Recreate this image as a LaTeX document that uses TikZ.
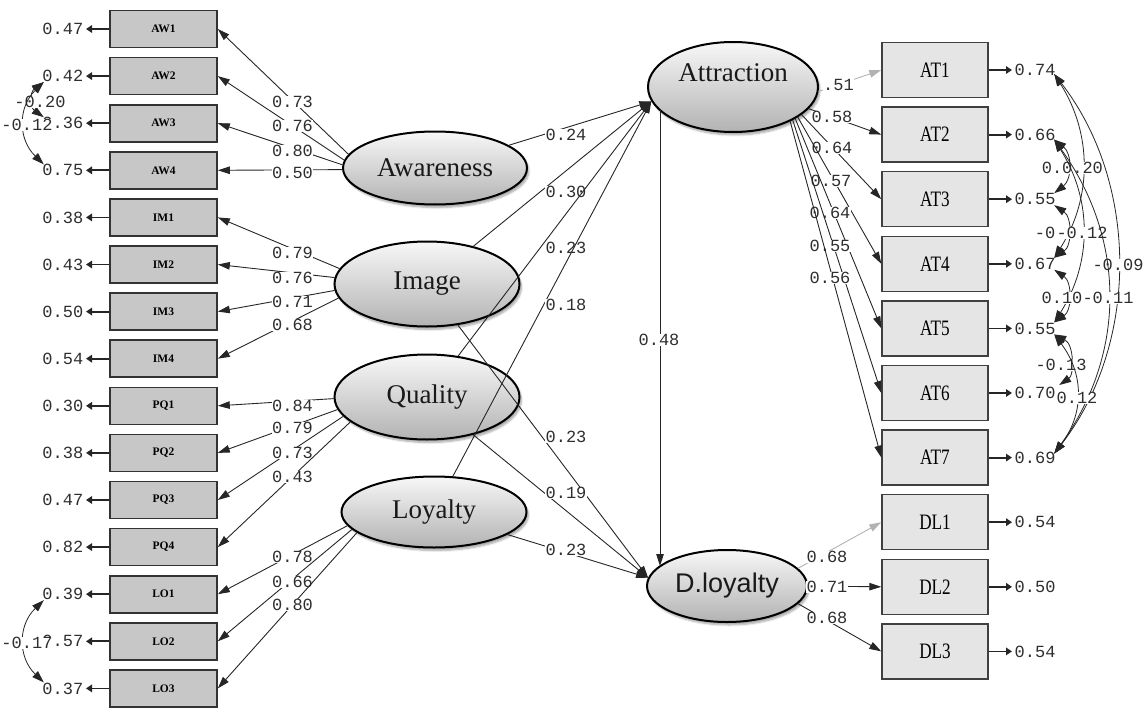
\documentclass[tikz,border=0pt]{standalone}
\usepackage{fontspec}
\setmainfont{Liberation Serif}
\newfontfamily\numfont{Liberation Mono}
\newfontfamily\sansfont{Liberation Sans}
\newfontfamily\tagfont[FakeStretch=0.78]{Liberation Serif}
\usetikzlibrary{arrows.meta,shapes.geometric,shadows.blur,calc}

\begin{document}
\begin{tikzpicture}[x=1pt,y=-1pt,
  num/.style={font=\numfont\fontsize{17}{17}\selectfont, text=black!82, inner sep=0.5pt},
  vlab/.style={num, fill=white},
  lbox/.style={draw=black!80, line width=1.6pt, fill=black!22, minimum width=107pt,
    minimum height=37pt, inner sep=0pt, font=\bfseries\fontsize{11.5}{11.5}\selectfont},
  rbox/.style={draw=black!75, line width=1.4pt, fill=black!10, minimum width=106pt,
    minimum height=55pt, inner sep=0pt, font=\tagfont\fontsize{22}{22}\selectfont},
  latent/.style={ellipse, draw=black, line width=2pt, top color=black!3, bottom color=black!30,
    inner sep=0pt, text=black!90, font=\fontsize{27}{27}\selectfont,
    blur shadow={shadow xshift=2pt, shadow yshift=-3pt, shadow blur steps=6, shadow opacity=35}},
  reg/.style={draw=black!85, line width=0.9pt, -{Triangle[length=12pt,width=7.5pt]}},
  fixpath/.style={draw=black!30, line width=0.9pt, -{Triangle[length=12pt,width=7.5pt,fill=black!30]}},
  err/.style={draw=black!85, line width=1.8pt, shorten >=2pt, -{Triangle[length=6pt,width=7.5pt]}},
  cov/.style={draw=black!85, line width=0.8pt,
    {Triangle[length=12pt,width=8pt]}-{Triangle[length=12pt,width=8pt]}},
]
\useasboundingbox (0,0) rectangle (1143,709);

% ---------- indicator boxes of the exogenous constructs ----------
\foreach \t/\e [count=\i from 0] in {AW1/0.47, AW2/0.42, AW3/0.36, AW4/0.75,
    IM1/0.38, IM2/0.43, IM3/0.50, IM4/0.54, PQ1/0.30, PQ2/0.38, PQ3/0.47, PQ4/0.82,
    LO1/0.39, LO2/0.57, LO3/0.37} {
  \node[lbox] (\t) at (163.5, 29+47.1*\i) {\t};
  \node[num, anchor=east] (e\t) at (84, 29+47.1*\i) {\e};
  \draw[err] (\t.west) -- (e\t.east);
}

% ---------- indicator boxes of the endogenous constructs ----------
\foreach \t/\e [count=\i from 0] in {AT1/0.74, AT2/0.66, AT3/0.55, AT4/0.67, AT5/0.55,
    AT6/0.70, AT7/0.69, DL1/0.54, DL2/0.50, DL3/0.54} {
  \node[rbox] (\t) at (935, 70+64.6*\i) {\t};
  \node[num, anchor=west] (e\t) at (1014, 70+64.6*\i) {\e};
  \draw[err] (\t.east) -- (e\t.west);
}

% ---------- latent variables ----------
\node[latent, minimum width=184pt, minimum height=73pt] (aw) at (435,168) {Awareness};
\node[latent, minimum width=185pt, minimum height=85pt] (im) at (427,284) {Image};
\node[latent, minimum width=185pt, minimum height=85pt] (qu) at (427,397) {Quality};
\node[latent, minimum width=185pt, minimum height=71pt] (lo) at (434,512) {Loyalty};
\node[latent, minimum width=170pt, minimum height=90pt, text depth=28pt] (att) at (733,87) {Attraction};
\node[latent, minimum width=160pt, minimum height=72pt, font=\sansfont\fontsize{27}{27}\selectfont] (dl) at (727,586) {D.loyalty};

% ---------- loadings, left side ----------
\draw[reg] (aw.171) -- (AW1.east); \node[vlab] (law1) at (292.5,102) {0.73};
\draw[reg] (aw.175) -- (AW2.east); \node[vlab] (law2) at (292.5,126) {0.76};
\draw[reg] (aw.178) -- (AW3.east); \node[vlab] (law3) at (292.5,151) {0.80};
\draw[reg] (aw.181) -- (AW4.east); \node[vlab] (law4) at (292.5,173) {0.50};

\draw[reg] (im.170) -- (IM1.east); \node[vlab] (lim1) at (292.5,253) {0.79};
\draw[reg] (im.176) -- (IM2.east); \node[vlab] (lim2) at (292.5,278) {0.76};
\draw[reg] (im.184) -- (IM3.east); \node[vlab] (lim3) at (292.5,302) {0.71};
\draw[reg] (im.189) -- (IM4.east); \node[vlab] (lim4) at (292.5,325) {0.68};

\draw[reg] (qu.181) -- (PQ1.east); \node[vlab] (lpq1) at (292.5,406) {0.84};
\draw[reg] (qu.188) -- (PQ2.east); \node[vlab] (lpq2) at (292.5,428) {0.79};
\draw[reg] (qu.193) -- (PQ3.east); \node[vlab] (lpq3) at (292.5,453) {0.73};
\draw[reg] (qu.198) -- (PQ4.east); \node[vlab] (lpq4) at (292.5,477) {0.43};

\draw[reg] (lo.189) -- (LO1.east); \node[vlab] (llo1) at (292.5,557) {0.78};
\draw[reg] (lo.192) -- (LO2.east); \node[vlab] (llo2) at (292.5,582) {0.66};
\draw[reg] (lo.195) -- (LO3.east); \node[vlab] (llo3) at (292.5,605) {0.80};

% ---------- structural paths ----------
\draw[reg] (aw) -- (att.190); \node[vlab] (s1) at (566,135) {0.24};
\draw[reg] (im) -- (att.190); \node[vlab] (s2) at (566,192) {0.30};
\draw[reg] (qu) -- (att.190); \node[vlab] (s3) at (566,248) {0.23};
\draw[reg] (lo) -- (att.190); \node[vlab] (s4) at (566,305) {0.18};
\draw[reg] (im) -- (dl.174); \node[vlab] (s5) at (566,437) {0.23};
\draw[reg] (qu) -- (dl.174); \node[vlab] (s6) at (566,493) {0.19};
\draw[reg] (lo) -- (dl.174); \node[vlab] (s7) at (566,550) {0.23};
\draw[reg] ($(att.center)+(-73,23)$) -- ($(dl.center)+(-67,-20)$);
\node[vlab] (s8) at (659,340) {0.48};

% ---------- loadings, right side ----------
\draw[fixpath] (att.-3) -- (AT1.west); \node[vlab] (lat1) at (838.5,85) {.51};
\draw[reg] (att.-16) -- (AT2.west); \node[vlab] (lat2) at (832,117) {0.58};
\draw[reg] (att.-22) -- (AT3.west); \node[vlab] (lat3) at (832,148) {0.64};
\draw[reg] (att.-25) -- (AT4.west); \node[vlab] (lat4) at (831,181) {0.57};
\draw[reg] (att.-27) -- (AT5.west); \node[vlab] (lat5) at (830,213) {0.64};
\draw[reg] (att.-29) -- (AT6.west); \node[vlab] (lat6) at (830,246) {0.55};
\draw[reg] (att.-31) -- (AT7.west); \node[vlab] (lat7) at (830,278) {0.56};

\draw[fixpath] (dl.14) -- (DL1.west); \node[vlab] (ldl1) at (827,557) {0.68};
\draw[reg] (dl.0) -- (DL2.west); \node[vlab] (ldl2) at (827,587) {0.71};
\draw[reg] (dl.-14) -- (DL3.west); \node[vlab] (ldl3) at (827,618) {0.68};

% ---------- error covariances, left ----------
\draw[cov] ($(eAW2.west)+(2,6)$) .. controls +(-14,10) and +(-14,-10) .. ($(eAW3.west)+(2,-6)$);
\node[vlab] (c1) at (40,102) {-0.20};
\draw[cov] ($(eAW2.west)+(2,6)$) .. controls +(-26,25) and +(-26,-25) .. ($(eAW4.west)+(2,-6)$);
\node[vlab] (c2) at (27,125) {-0.12};
\draw[cov] ($(eLO1.west)+(2,6)$) .. controls +(-26,25) and +(-26,-25) .. ($(eLO3.west)+(2,-6)$);
\node[vlab] (c3) at (27,643) {-0.17};

% ---------- error covariances, right ----------
\draw[cov] ($(eAT1.east)+(-2,4)$) .. controls +(85,110) and +(85,-110) .. ($(eAT7.east)+(-2,-4)$);
\node[vlab] (r1) at (1118,265) {-0.09};
\draw[cov] ($(eAT1.east)+(-2,4)$) .. controls +(38,60) and +(38,-60) .. ($(eAT4.east)+(-2,-6)$);
\draw[cov] ($(eAT2.east)+(-2,5)$) .. controls +(18,14) and +(18,-14) .. ($(eAT3.east)+(-2,-6)$);
\node[vlab] (r3) at (1052,168) {0.};
\node[vlab] (r2) at (1082.5,168) {0.20};
\draw[cov] ($(eAT2.east)+(-2,5)$) .. controls +(38,60) and +(38,-60) .. ($(eAT5.east)+(-2,-6)$);
\draw[cov] ($(eAT3.east)+(-2,6)$) .. controls +(18,12) and +(18,-12) .. ($(eAT4.east)+(-2,-6)$);
\node[vlab] (r5) at (1045,233) {-0};
\node[vlab] (r4) at (1082,233) {-0.12};
\draw[cov] ($(eAT2.east)+(-2,5)$) .. controls +(72,100) and +(72,-100) .. ($(eAT7.east)+(-2,-4)$);
\draw[cov] ($(eAT4.east)+(-2,6)$) .. controls +(18,12) and +(18,-12) .. ($(eAT5.east)+(-2,-6)$);
\node[vlab] (r7) at (1062,298) {0.10};
\node[vlab] (r6) at (1108,298) {-0.11};
\draw[cov] ($(eAT5.east)+(-2,6)$) .. controls +(20,10) and +(15,-10) .. ($(eAT6.east)+(3,-8)$);
\node[vlab] (r8) at (1061,365) {-0.13};
\draw[cov] ($(eAT5.east)+(-2,6)$) .. controls +(30,40) and +(30,-40) .. ($(eAT7.east)+(-2,-4)$);
\node[vlab] (r9) at (1077,398) {0.12};
\end{tikzpicture}
\end{document}
